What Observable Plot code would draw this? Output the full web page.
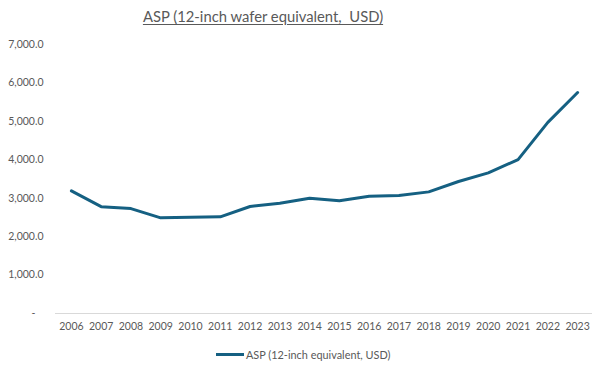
<!DOCTYPE html>
<html>
<head>
<meta charset="utf-8">
<script src="https://cdn.jsdelivr.net/npm/d3@7"></script>
<script src="https://cdn.jsdelivr.net/npm/@observablehq/plot@0.6"></script>
<style>
  html, body { margin: 0; padding: 0; background: #fff; }
  #wrap { position: relative; width: 601px; height: 372px; font-family: Lato, "Open Sans", sans-serif; }
  #title { position: absolute; left: 0; top: 7px; width: 526px; text-align: center; font-size: 14.8px; color: #595959; text-decoration: underline; text-underline-offset: 2px; white-space: pre; }
  #legend { position: absolute; left: 216px; top: 348px; font-size: 10.9px; color: #595959; display: flex; align-items: center; }
  #legend .sw { width: 28px; height: 3px; background: #156082; margin-right: 2px; }
  svg { position: absolute; left: 0; top: 0; }
</style>
</head>
<body>
<div id="wrap">
  <div id="chart"></div>
  <div id="title"></div>
  <div id="legend"><span class="sw"></span><span id="legtext"></span></div>
</div>
<script>
const titleText = "ASP (12-inch wafer equivalent,  USD)";
const seriesName = "ASP (12-inch equivalent, USD)";
const years = ["2006","2007","2008","2009","2010","2011","2012","2013","2014","2015","2016","2017","2018","2019","2020","2021","2022","2023"];
const asp = [3190, 2780, 2730, 2490, 2505, 2515, 2785, 2870, 3000, 2935, 3050, 3070, 3165, 3435, 3660, 4005, 4975, 5750];
const yTicks = [0, 1000, 2000, 3000, 4000, 5000, 6000, 7000];

const data = years.map((y, i) => ({year: y, value: asp[i]}));
const fmt = d3.format(",.1f");

const chart = Plot.plot({
  width: 601,
  height: 372,
  marginLeft: 56,
  marginRight: 9,
  marginTop: 44,
  marginBottom: 59,
  style: {fontFamily: "Lato, 'Open Sans', sans-serif", fontSize: "10.5px", color: "#595959", background: "#fff"},
  x: {type: "point", domain: years, padding: 0.5, round: false, label: null},
  y: {domain: [0, 7000], label: null},
  marks: [
    Plot.ruleY([0], {stroke: "#d9d9d9", strokeWidth: 1, insetLeft: -1}),
    Plot.axisY({ticks: yTicks, tickSize: 0, tickPadding: 13, tickFormat: d => d === 0 ? "-\u00a0\u00a0\u00a0" : fmt(d), fill: "#595959", fontSize: 10.5}),
    Plot.axisX({tickSize: 0, tickPadding: 9, fill: "#595959", fontSize: 10.5}),
    Plot.line(data, {x: "year", y: "value", stroke: "#156082", strokeWidth: 3, strokeLinejoin: "round", strokeLinecap: "round"})
  ]
});
document.getElementById("chart").appendChild(chart);
document.getElementById("title").textContent = titleText;
document.getElementById("legtext").textContent = seriesName;
</script>
</body>
</html>
